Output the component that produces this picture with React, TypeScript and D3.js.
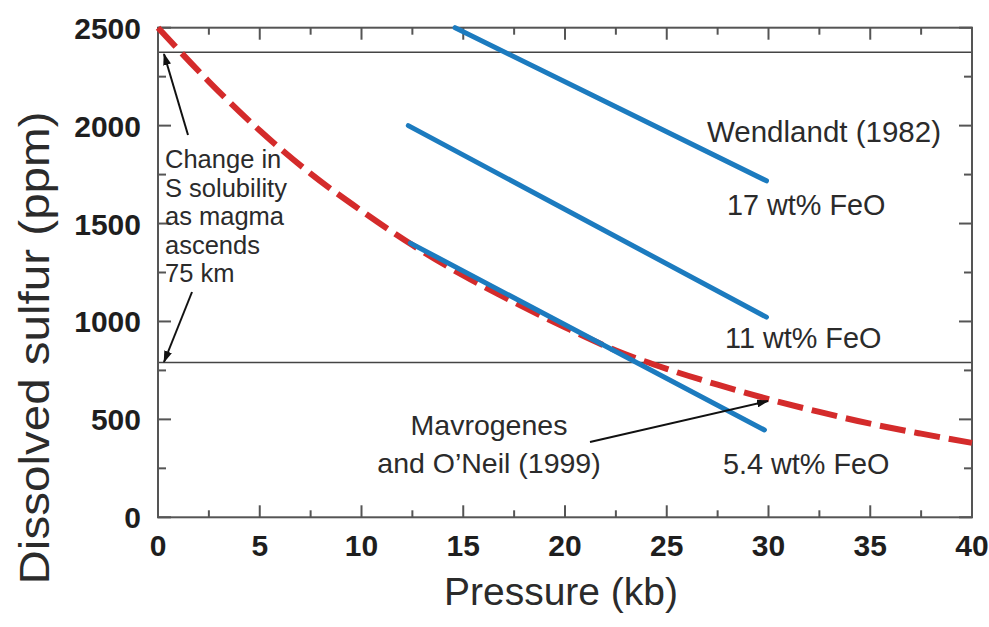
import React from "react";
import * as d3 from "d3";

const pressure = [0, 2.5, 5, 7.5, 10, 12.5, 15, 17.5, 20, 22.5, 25, 27.5, 30, 32.5, 35, 37.5, 40];
const sulfurMO = [2500, 2225, 1975, 1755, 1565, 1390, 1235, 1098, 970, 852, 758, 677, 603, 538, 478, 427, 380];

const feo17 = [[14.6, 2500], [29.9, 1718]];
const feo11 = [[12.3, 2000], [29.9, 1022]];
const feo54 = [[12.4, 1400], [29.8, 446]];

const levelLines = [2375, 790];

const xMajor = [0, 5, 10, 15, 20, 25, 30, 35, 40];
const xMinor = [2.5, 7.5, 12.5, 17.5, 22.5, 27.5, 32.5, 37.5];
const yMajor = [0, 500, 1000, 1500, 2000, 2500];
const yMinor = [250, 750, 1250, 1750, 2250];

const noteLines = ["Change in", "S solubility", "as magma", "ascends", "75 km"];

export default function App() {
  const x = d3.scaleLinear().domain([0, 40]).range([158, 972]);
  const y = d3.scaleLinear().domain([0, 2500]).range([517.3, 27.7]);
  const [x0, x1] = x.range();
  const [y0, y1] = y.range();

  const redLine = d3
    .line<number>()
    .x((_, i) => x(pressure[i]))
    .y((d) => y(d))
    .curve(d3.curveMonotoneX);

  const blue = d3
    .line<number[]>()
    .x((d) => x(d[0]))
    .y((d) => y(d[1]));

  const axisColor = "#555";
  const textColor = "#2b2b2b";
  const font = "'Liberation Sans', Arial, Helvetica, sans-serif";
  const blueColor = "#1c7bbf";
  const redColor = "#d42b2b";

  return (
    <svg
      width={989}
      height={627}
      style={{ position: "absolute", left: 0, top: 0, background: "#fff" }}
      fontFamily={font}
    >
      <defs>
        <marker id="arr" viewBox="0 0 12 8" refX="11" refY="4" markerWidth="12" markerHeight="8" markerUnits="userSpaceOnUse" orient="auto">
          <path d="M0,0 L12,4 L0,8 Z" fill="#111" />
        </marker>
      </defs>

      {/* horizontal reference lines */}
      {levelLines.map((v) => (
        <line key={v} x1={x0} x2={x1} y1={y(v)} y2={y(v)} stroke="#444" strokeWidth={1.5} />
      ))}

      {/* frame */}
      <rect x={x0} y={y1} width={x1 - x0} height={y0 - y1} fill="none" stroke={axisColor} strokeWidth={2} />

      {/* ticks */}
      {xMajor.map((v) => (
        <g key={"xM" + v}>
          <line x1={x(v)} x2={x(v)} y1={y0} y2={y0 - 12} stroke={axisColor} strokeWidth={2} />
          <line x1={x(v)} x2={x(v)} y1={y1} y2={y1 + 12} stroke={axisColor} strokeWidth={2} />
        </g>
      ))}
      {xMinor.map((v) => (
        <g key={"xm" + v}>
          <line x1={x(v)} x2={x(v)} y1={y0} y2={y0 - 7} stroke={axisColor} strokeWidth={2} />
          <line x1={x(v)} x2={x(v)} y1={y1} y2={y1 + 7} stroke={axisColor} strokeWidth={2} />
        </g>
      ))}
      {yMajor.map((v) => (
        <g key={"yM" + v}>
          <line x1={x0} x2={x0 + 13} y1={y(v)} y2={y(v)} stroke={axisColor} strokeWidth={2} />
          <line x1={x1} x2={x1 - 13} y1={y(v)} y2={y(v)} stroke={axisColor} strokeWidth={2} />
        </g>
      ))}
      {yMinor.map((v) => (
        <g key={"ym" + v}>
          <line x1={x0} x2={x0 + 8} y1={y(v)} y2={y(v)} stroke={axisColor} strokeWidth={2} />
          <line x1={x1} x2={x1 - 8} y1={y(v)} y2={y(v)} stroke={axisColor} strokeWidth={2} />
        </g>
      ))}

      {/* tick labels */}
      {xMajor.map((v) => (
        <text key={"xl" + v} x={x(v)} y={556} textAnchor="middle" fontSize={30} fontWeight="bold" fill="#1e1e1e">
          {v}
        </text>
      ))}
      {yMajor.map((v) => (
        <text key={"yl" + v} x={141} y={y(v) + 11} textAnchor="end" fontSize={30} fontWeight="bold" fill="#1e1e1e">
          {v}
        </text>
      ))}

      {/* axis titles */}
      <text x={561} y={605} textAnchor="middle" fontSize={39} fill={textColor}>
        Pressure (kb)
      </text>
      <text
        transform="translate(49,348) rotate(-90)"
        textAnchor="middle"
        fontSize={42}
        fill={textColor}
        textLength={473}
        lengthAdjust="spacingAndGlyphs"
      >
        Dissolved sulfur (ppm)
      </text>

      {/* red dashed Mavrogenes curve */}
      <path
        d={redLine(sulfurMO) || ""}
        fill="none"
        stroke={redColor}
        strokeWidth={6}
        strokeDasharray="26 9"
      />

      {/* blue Wendlandt lines */}
      {[feo17, feo11, feo54].map((d, i) => (
        <path key={"b" + i} d={blue(d) || ""} fill="none" stroke={blueColor} strokeWidth={5} strokeLinecap="round" />
      ))}

      {/* annotations */}
      {noteLines.map((t, i) => (
        <text key={t} x={165} y={168 + i * 28.6} fontSize={25.5} fill={textColor}>
          {t}
        </text>
      ))}
      <line x1={188} y1={135} x2={164} y2={54} stroke="#111" strokeWidth={2} markerEnd="url(#arr)" />
      <line x1={192} y1={292} x2={164} y2={362} stroke="#111" strokeWidth={2} markerEnd="url(#arr)" />

      <text x={707} y={142} fontSize={29.5} fill={textColor}>Wendlandt (1982)</text>
      <text x={727} y={215} fontSize={28.8} fill={textColor}>17 wt% FeO</text>
      <text x={725} y={348} fontSize={28.8} fill={textColor}>11 wt% FeO</text>
      <text x={723} y={474} fontSize={28.8} fill={textColor}>5.4 wt% FeO</text>

      <text x={489} y={435} textAnchor="middle" fontSize={28.5} fill={textColor}>Mavrogenes</text>
      <text x={489} y={473} textAnchor="middle" fontSize={28.5} fill={textColor}>and O’Neil (1999)</text>
      <line x1={590} y1={442} x2={768} y2={401} stroke="#111" strokeWidth={2} markerEnd="url(#arr)" />
    </svg>
  );
}
